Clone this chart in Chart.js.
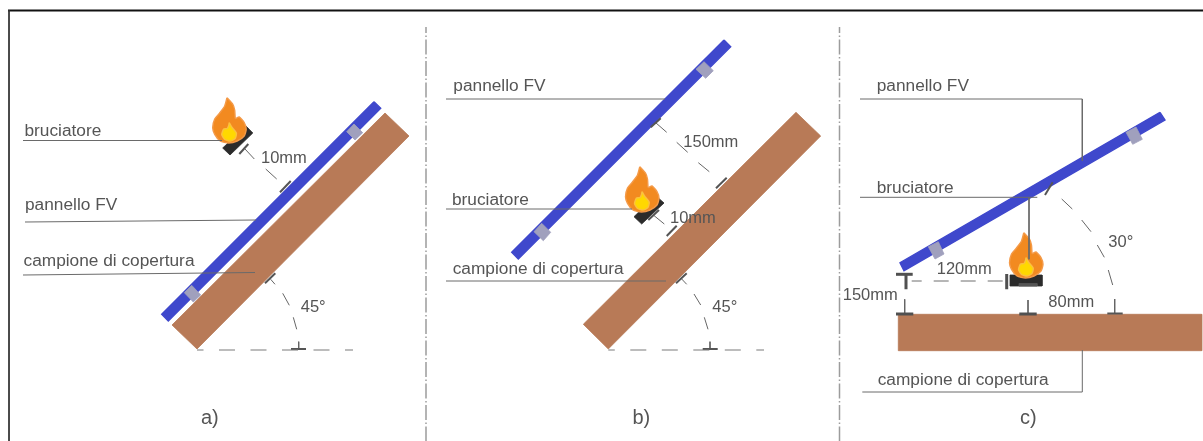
<!DOCTYPE html>
<html lang="it">
<head>
  <meta charset="UTF-8">
  <title>Configurazioni di prova</title>
  <script src="https://cdn.jsdelivr.net/npm/chart.js"></script>
  <style>
    html, body { margin: 0; padding: 0; background: #fff; }
    #chart-container { width: 1203px; height: 441px; }
    canvas { display: block; }
  </style>
</head>
<body>
  <div id="chart-container"><canvas id="diagram"></canvas></div>
  <script>
    const frameLines = [
      [[8, 10.5], [1203, 10.5]],
      [[9, 10], [9, 441]]
    ];
    const separators = [
      [[426, 27], [426, 441]],
      [[839.5, 27], [839.5, 441]]
    ];
    const brownSamples = [
      [[385, 113], [409, 136], [197, 349], [172, 325]],
      [[796, 112.3], [820.7, 136], [608.3, 349], [583.3, 324.3]],
      [[898.3, 314.3], [1201.7, 314.3], [1201.7, 350.7], [898.3, 350.7]]
    ];
    const bluePanels = [
      [[374, 101.7], [380.7, 108.3], [168.3, 321], [161.7, 314.3]],
      [[724, 40], [730.7, 46.7], [518.3, 259], [511.7, 252.3]],
      [[1160, 112.3], [1165, 120], [904, 270.7], [900, 262.7]]
    ];
    const clips = [
      [[354, 124], [362.7, 132.7], [355, 140], [346.7, 131.7]],
      [[191.7, 285.3], [200.7, 295], [193.3, 302], [184.3, 292.7]],
      [[704, 61.7], [713.3, 70.7], [705.7, 78.3], [696, 69.3]],
      [[541.7, 223.3], [550.7, 232.3], [543.3, 240.7], [534, 231.7]],
      [[1136, 127], [1142.3, 139.3], [1132.7, 144.3], [1126, 132.3]],
      [[938.3, 241.7], [944, 254], [935, 259], [928.3, 246.7]]
    ];
    const burners = [
      [[246, 126], [252.8, 133], [230, 155], [222.7, 148]],
      [[655.5, 195.5], [664, 203], [641.7, 224], [634, 216.7]],
      [[1010, 275], [1042, 275], [1042, 286], [1010, 286]]
    ];
    const burnerNotch = [[1019, 283.5], [1037, 283.5], [1037, 286], [1019, 286]];
    const flameAnchors = [[228.7, 143], [641.5, 212], [1025.5, 278]];
    const flameOuter = [
      [-1.7, -45.3], [4, -39], [6, -33], [6.5, -25], [7, -24.5], [10.5, -26], [15.5, -20.3],
      [17.5, -13.7], [15.5, -7], [8.5, -2], [0, 0], [-8.5, -2], [-14, -8.7], [-16, -15.3],
      [-14, -24], [-9, -30], [-4, -37], [-1.7, -45.3]
    ];
    const flameInner = [
      [0.5, -20.5], [3, -16], [7.7, -10], [6.5, -4.5], [1.5, -2], [-4, -3.5], [-7, -8.5],
      [-5, -14], [-1.5, -14.5], [0, -17.5], [0.5, -20.5]
    ];
    const leaderLines = [
      [[23, 140.5], [222, 140.5]],
      [[25, 222], [256, 220]],
      [[23, 275], [255, 272.5]],
      [[446, 99], [665, 99]],
      [[446, 209], [632, 209]],
      [[446, 281], [666, 281]],
      [[860, 99], [1082.3, 99], [1082.3, 160.7]],
      [[860, 197.3], [1037.3, 197.3]],
      [[1029, 197.3], [1029, 259.3]],
      [[862.3, 392], [1082.3, 392], [1082.3, 350]]
    ];
    const dimStems = [
      [[245, 149], [254.3, 159]], [[265.7, 169], [276.7, 179]],
      [[270.7, 279.3], [275, 284.3]], [[282.7, 293.3], [289.3, 305.3]],
      [[293.3, 317.3], [296.7, 329.3]], [[298.7, 341.7], [298.7, 349]],
      [[655.7, 122.7], [666.7, 132.3]], [[676.7, 142.3], [687.7, 152.3]],
      [[698.3, 162.7], [709.3, 171.7]], [[653.3, 215], [664.3, 224]],
      [[681.7, 279], [686.7, 284.3]], [[694, 294], [700.7, 305]],
      [[704.3, 317.3], [708, 329.3]], [[710, 341.7], [710, 349]],
      [[904.7, 299.3], [904.7, 314]], [[1028, 300], [1028, 314]],
      [[1114.7, 299], [1114.7, 313.3]], [[1061.7, 199], [1072.3, 209]],
      [[1081.7, 220], [1091, 231.7]], [[1097.3, 245], [1104.3, 257.3]],
      [[1108.3, 270], [1112.7, 285]]
    ];
    const dimTicks = [
      [[239.3, 154], [248.3, 144]], [[280, 192.3], [290.7, 181]],
      [[265, 283.3], [275.3, 273.3]], [[291, 349], [306, 349]],
      [[650.7, 127.3], [660.7, 118.3]], [[716, 188.3], [726.7, 177.7]],
      [[648.3, 220], [659, 210]], [[666.7, 236], [676.7, 225.7]],
      [[676, 283.3], [686.7, 273.3]], [[702.7, 349], [717.7, 349]],
      [[1045, 195], [1052.7, 182.3]], [[1107.3, 313.5], [1122.7, 313.5]]
    ];
    const heavyTicks = [
      [[896, 274.3], [912.7, 274.3]], [[906, 274.3], [906, 289.3]],
      [[1006.7, 274], [1006.7, 289.3]], [[896, 314], [913.3, 314]],
      [[1019.3, 314], [1036.7, 314]]
    ];
    const baseLines = [
      [[197, 350], [353, 350]],
      [[608.3, 350], [764, 350]]
    ];
    const burnerDash = [[911.7, 281], [1006.7, 281]];
    const labelTexts = [
      "bruciatore", "pannello FV", "campione di copertura", "10mm", "45°", "a)",
      "pannello FV", "150mm", "bruciatore", "10mm", "campione di copertura", "45°", "b)",
      "pannello FV", "bruciatore", "120mm", "150mm", "80mm", "30°", "campione di copertura", "c)"
    ];
    const labelX = [
      24.5, 25, 23.5, 261, 300.7, 201,
      453.3, 683.3, 452, 670, 452.7, 712.3, 632.5,
      876.7, 876.7, 936.7, 842.7, 1048.3, 1108.3, 877.7, 1020
    ];
    const labelY = [
      136, 210, 265.5, 163.3, 312, 424,
      90.5, 146.7, 204.5, 223.3, 273.5, 312, 424,
      90.5, 193, 274, 300, 306.7, 247.3, 384.5, 424
    ];

    const toPoints = (list) => list.map(([x, y]) => ({ x, y }));

    function shape(list, color, edge, edgeWidth) {
      return {
        data: toPoints([...list, list[0]]),
        showLine: true,
        fill: "shape",
        backgroundColor: color,
        borderColor: edge || color,
        borderWidth: edgeWidth || 0.8,
        pointRadius: 0
      };
    }

    function line(list, color, width, dash, offset) {
      return {
        data: toPoints(list),
        showLine: true,
        fill: false,
        borderColor: color,
        borderWidth: width,
        borderDash: dash || [],
        borderDashOffset: offset || 0,
        pointRadius: 0
      };
    }

    function flame(anchor, outline, color, edge) {
      const moved = outline.map(([dx, dy]) => [anchor[0] + dx, anchor[1] + dy]);
      return { ...shape(moved, color, edge, 1.4), tension: 0.2 };
    }

    function labelFont(text) {
      if (text.endsWith(")")) return '20px "Liberation Sans"';
      if (/\d/.test(text)) return '16.5px "Liberation Sans"';
      return '17.3px "Liberation Sans"';
    }

    // listed bottom to top, reversed below because chart.js paints index 0 last
    const datasets = [
      ...frameLines.map((l, i) => line(l, i === 0 ? "#111111" : "#333333", i === 0 ? 2 : 1)),
      ...separators.map((l) => line(l, "#9c9c9c", 1.5, [15, 2.5, 1.5, 2.5], 9)),
      ...brownSamples.map((p) => shape(p, "#b87a57")),
      ...bluePanels.map((p) => shape(p, "#3f48cc", "#3f48cc", 1.4)),
      ...clips.map((p) => shape(p, "#a0a0bd")),
      ...burners.map((p) => shape(p, "#2b2b2b")),
      shape(burnerNotch, "#555555"),
      ...flameAnchors.map((a) => flame(a, flameOuter, "#f28a20", "#f49a48")),
      ...flameAnchors.map((a) => flame(a, flameInner, "#ffd800", "#fbc040")),
      ...leaderLines.map((l) => line(l, "#6a6a6a", 1)),
      ...dimStems.map((l) => line(l, "#666666", 1)),
      ...dimTicks.map((l) => line(l, "#555555", 2)),
      ...heavyTicks.map((l) => line(l, "#505050", 3)),
      ...baseLines.map((l) => line(l, "#7a7a7a", 1.2, [16, 15.5], 9.5)),
      line(burnerDash, "#6e6e6e", 1, [15, 12], 5)
    ].reverse();

    const textLabels = {
      id: "textLabels",
      afterDatasetsDraw(chart) {
        const { ctx, scales } = chart;
        ctx.save();
        ctx.fillStyle = "#555555";
        ctx.textBaseline = "alphabetic";
        labelTexts.forEach((text, i) => {
          ctx.font = labelFont(text);
          ctx.fillText(text, scales.x.getPixelForValue(labelX[i]), scales.y.getPixelForValue(labelY[i]));
        });
        ctx.restore();
      }
    };

    new Chart(document.getElementById("diagram"), {
      type: "scatter",
      data: { datasets },
      plugins: [textLabels],
      options: {
        responsive: true,
        maintainAspectRatio: false,
        animation: false,
        layout: { padding: 0 },
        plugins: { legend: { display: false }, tooltip: { enabled: false } },
        scales: {
          x: { type: "linear", min: 0, max: 1203, display: false },
          y: { type: "linear", min: 0, max: 441, reverse: true, display: false }
        }
      }
    });
  </script>
</body>
</html>
